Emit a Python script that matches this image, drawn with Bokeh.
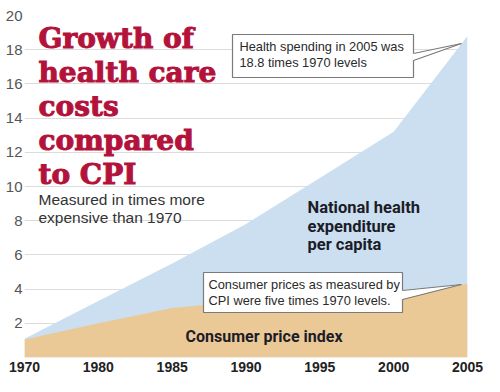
from bokeh.plotting import figure
from bokeh.models import Label, FixedTicker, ColumnDataSource
from bokeh.embed import file_html
from bokeh.resources import INLINE

# ---- data ----
years = ["1970", "1980", "1985", "1990", "1995", "2000", "2005"]
health = [1.1, 3.3, 5.5, 7.8, 10.5, 13.2, 18.8]
cpi = [1.05, 2.0, 2.9, 3.3, 3.7, 3.85, 4.3]
y_ticks = [2, 4, 6, 8, 10, 12, 14, 16, 18, 20]

xs = list(range(len(years)))
src = ColumnDataSource(dict(x=xs, health=health, cpi=cpi, zero=[0] * len(xs)))

W, H = 492, 384
p = figure(width=W, height=H, output_backend="svg", toolbar_location=None,
           x_range=(0, len(years) - 1), y_range=(0, 20),
           min_border_left=24, min_border_right=25, min_border_top=15,
           min_border_bottom=27)
p.outline_line_color = None
p.background_fill_color = "white"
p.border_fill_color = "white"

# frame pixel geometry (for placing annotations)
X0, X1, Y0, Y1 = 24.0, 467.0, 357.0, 15.0
def dx(px):
    return (px - X0) / (X1 - X0) * (len(years) - 1)
def dy(py):
    return (Y0 - py) / (Y0 - Y1) * 20

p.varea(x="x", y1="zero", y2="health", source=src, fill_color="#cbdff0")
p.varea(x="x", y1="zero", y2="cpi", source=src, fill_color="#ebc996")

# axes
p.xgrid.grid_line_color = None
p.ygrid.grid_line_color = "#dcdcdc"
p.ygrid.ticker = FixedTicker(ticks=y_ticks)
p.yaxis.ticker = FixedTicker(ticks=y_ticks)
p.xaxis.ticker = FixedTicker(ticks=xs)
p.xaxis.major_label_overrides = {i: y for i, y in enumerate(years)}
for ax in (p.xaxis[0], p.yaxis[0]):
    ax.axis_line_color = None
    ax.major_tick_line_color = None
    ax.minor_tick_line_color = None
    ax.major_tick_in = 0
    ax.major_tick_out = 0
p.yaxis.major_label_text_font = "Liberation Sans"
p.yaxis.major_label_text_font_size = "15px"
p.yaxis.major_label_text_color = "#555555"
p.yaxis.major_label_standoff = 2
p.xaxis.major_label_text_font = "Liberation Sans"
p.xaxis.major_label_text_font_style = "bold"
p.xaxis.major_label_text_font_size = "14px"
p.xaxis.major_label_text_color = "#222222"
p.xaxis.major_label_standoff = 4

def lab(px, py, text, size, color="#222222", font="Liberation Sans", style="normal",
        outline=False):
    kw = {}
    if outline:
        kw = dict(text_outline_color=color)
    py = py - 0.36 * size  # compensate for label baseline placement
    p.add_layout(Label(x=dx(px), y=dy(py), text=text, text_font=font,
                       text_font_size=f"{size}px", text_color=color,
                       text_font_style=style, text_align="left",
                       text_baseline="alphabetic", **kw))

# title
title_lines = ["Growth of", "health care", "costs", "compared", "to CPI"]
for i, t in enumerate(title_lines):
    lab(38, 48 + 34 * i, t, 28, "#b3123b", "DejaVu Serif", "bold", outline=True)

lab(38, 205, "Measured in times more", 15.5, "#333333")
lab(38, 223, "expensive than 1970", 15.5, "#333333")

for i, t in enumerate(["National health", "expenditure", "per capita"]):
    lab(307, 213 + 18.5 * i, t, 16.5, "#1c1c28", "Roboto", "bold")
lab(185, 342, "Consumer price index", 16, "#1c1c28", "Roboto", "bold")

# callout boxes
def callout(x0, y0, x1, y1, a0, a1, tip, lines, tx, tb):
    p.quad(left=dx(x0), right=dx(x1), top=dy(y0), bottom=dy(y1),
           fill_color="white", line_color="#7a7a7a", line_width=1.2)
    p.patch([dx(x1 - 1), dx(tip[0]), dx(x1 - 1)], [dy(a0), dy(tip[1]), dy(a1)],
            fill_color="white", line_color=None)
    p.line([dx(x1), dx(tip[0])], [dy(a0), dy(tip[1])], line_color="#7a7a7a", line_width=1.2)
    p.line([dx(x1), dx(tip[0])], [dy(a1), dy(tip[1])], line_color="#7a7a7a", line_width=1.2)
    for i, t in enumerate(lines):
        lab(tx, tb + 16 * i, t, 12.8, "#2a2a2a")

callout(232, 34, 413, 77, 53, 60, (461, 43),
        ["Health spending in 2005 was", "18.8 times 1970 levels"], 239, 51)
callout(203, 272, 402, 312, 290, 299, (461, 284),
        ["Consumer prices as measured by", "CPI were five times 1970 levels."], 208, 289)

open("out.html", "w").write(file_html(p, INLINE))
